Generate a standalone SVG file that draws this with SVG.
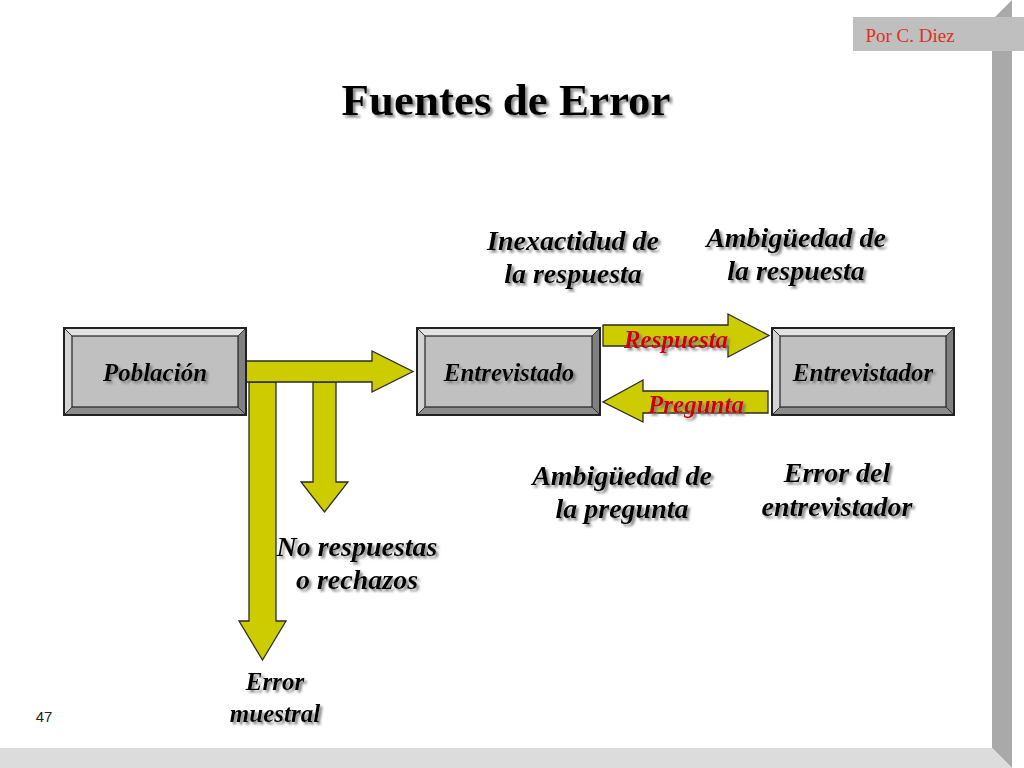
<svg xmlns="http://www.w3.org/2000/svg" width="1024" height="768" viewBox="0 0 1024 768">
<defs>
<filter id="sh" x="-10%" y="-20%" width="130%" height="160%">
<feDropShadow dx="2.5" dy="2.5" stdDeviation="1.2" flood-color="#7a7a7a" flood-opacity="0.9"/>
</filter>
<style>
.lbl{font-family:"Liberation Serif","Times New Roman",serif;font-weight:bold;font-style:italic;text-anchor:middle;fill:#000;filter:url(#sh)}
.big{font-size:28px}
.mid{font-size:25px}
.red{fill:#cc0000}
.arrow{fill:#cccc00;stroke:#2a2a2a;stroke-width:1.3;stroke-linejoin:miter}
.face{fill:#c0c0c0;stroke:#222;stroke-width:1.2}
.bt{fill:#e2e2e2}
.bl{fill:#d4d4d4}
.br{fill:#808080}
.bb{fill:#8c8c8c}
.outer{fill:none;stroke:#222;stroke-width:2}
.edge{stroke:#333;stroke-width:1}
</style>
</defs>
<rect width="1024" height="768" fill="#ffffff"/>
<g id="frame">
<polygon points="992,20 1012,0 1012,768 992,748" fill="#a9a9a9"/>
<polygon points="0,748 992,748 1012,768 0,768" fill="#dcdcdc"/>
<rect x="853" y="17" width="171" height="34" fill="#bfbfbf"/>
<text x="910" y="42" font-family="Liberation Serif, Times New Roman, serif" font-size="19" fill="#e0301e" text-anchor="middle">Por C. Diez</text>
<text x="44" y="722" font-family="Liberation Sans, Arial, sans-serif" font-size="15" fill="#222" text-anchor="middle">47</text>
</g>
<text x="506" y="115" font-family="Liberation Serif, Times New Roman, serif" font-size="45" font-weight="bold" text-anchor="middle" fill="#000" filter="url(#sh)">Fuentes de Error</text>
<g id="connectors">
<polygon class="arrow" points="249,382 276,382 276,621 286,621 262.5,660 239,621 249,621"/>
<polygon class="arrow" points="313,382 336,382 336,482 348,482 324.5,512 301,482 313,482"/>
<polygon class="arrow" points="246,361 372,361 372,351 413,371.5 372,392 372,382 246,382"/>
<polygon class="arrow" points="603,325 728,325 728,314 769,335.5 728,357 728,346 603,346"/>
<polygon class="arrow" points="768,391 768,413 643,413 643,422 603,402 643,380 643,391"/>
<text class="lbl mid red" x="676" y="348">Respuesta</text>
<text class="lbl mid red" x="696" y="413">Pregunta</text>
</g>
<g id="poblacion">
<polygon class="bt" points="64,328 246,328 238,336 72,336"/>
<polygon class="bl" points="64,328 72,336 72,407 64,415"/>
<polygon class="br" points="246,328 246,415 238,407 238,336"/>
<polygon class="bb" points="64,415 72,407 238,407 246,415"/>
<rect class="face" x="72" y="336" width="166" height="71"/>
<path class="edge" d="M64,328L72,336M246,328L238,336M64,415L72,407M246,415L238,407"/>
<rect class="outer" x="64" y="328" width="182" height="87"/>
<text class="lbl mid" x="155" y="381">Población</text>
</g>
<g id="entrevistado">
<polygon class="bt" points="417,328 600,328 592,336 425,336"/>
<polygon class="bl" points="417,328 425,336 425,407 417,415"/>
<polygon class="br" points="600,328 600,415 592,407 592,336"/>
<polygon class="bb" points="417,415 425,407 592,407 600,415"/>
<rect class="face" x="425" y="336" width="167" height="71"/>
<path class="edge" d="M417,328L425,336M600,328L592,336M417,415L425,407M600,415L592,407"/>
<rect class="outer" x="417" y="328" width="183" height="87"/>
<text class="lbl mid" x="509" y="381">Entrevistado</text>
</g>
<g id="entrevistador">
<polygon class="bt" points="772,328 954,328 946,336 780,336"/>
<polygon class="bl" points="772,328 780,336 780,407 772,415"/>
<polygon class="br" points="954,328 954,415 946,407 946,336"/>
<polygon class="bb" points="772,415 780,407 946,407 954,415"/>
<rect class="face" x="780" y="336" width="166" height="71"/>
<path class="edge" d="M772,328L780,336M954,328L946,336M772,415L780,407M954,415L946,407"/>
<rect class="outer" x="772" y="328" width="182" height="87"/>
<text class="lbl mid" x="863" y="381">Entrevistador</text>
</g>
<g id="inexactitud">
<text class="lbl big" x="573" y="250">Inexactidud de</text>
<text class="lbl big" x="573" y="283">la respuesta</text>
</g>
<g id="ambig-respuesta">
<text class="lbl big" x="796" y="247">Ambigüedad de</text>
<text class="lbl big" x="796" y="280">la respuesta</text>
</g>
<g id="ambig-pregunta">
<text class="lbl big" x="622" y="485">Ambigüedad de</text>
<text class="lbl big" x="622" y="518">la pregunta</text>
</g>
<g id="error-entrevistador">
<text class="lbl big" x="837" y="482">Error del</text>
<text class="lbl big" x="837" y="516">entrevistador</text>
</g>
<g id="no-respuestas">
<text class="lbl big" x="357" y="556">No respuestas</text>
<text class="lbl big" x="357" y="589">o rechazos</text>
</g>
<g id="error-muestral">
<text class="lbl mid" x="275" y="690">Error</text>
<text class="lbl mid" x="275" y="722">muestral</text>
</g>
</svg>
